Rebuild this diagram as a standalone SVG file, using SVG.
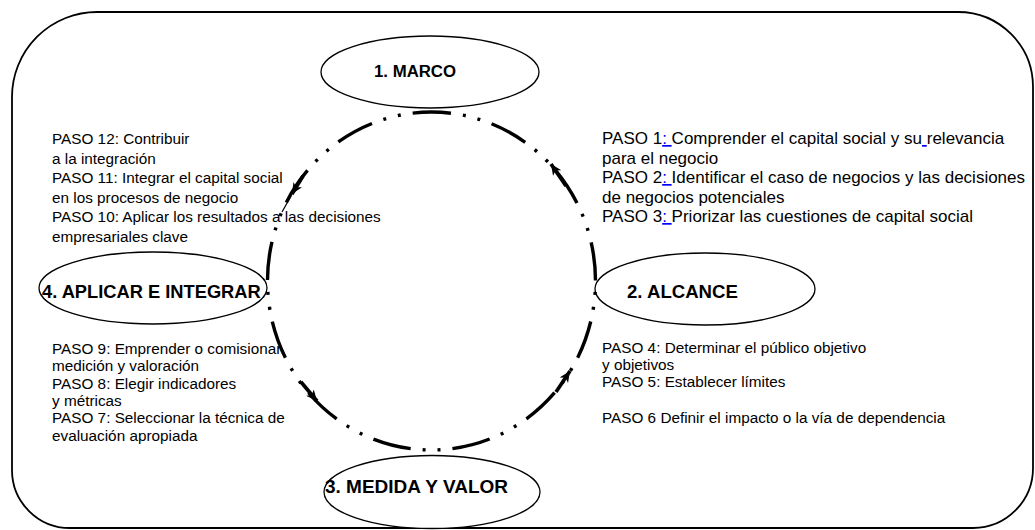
<svg xmlns="http://www.w3.org/2000/svg" width="1035" height="530" viewBox="0 0 1035 530">
<style>
.t{font-family:"Liberation Sans",Arial,sans-serif;fill:#000;white-space:pre}
.s15{font-size:15.3px}
.s17{font-size:17px}
.b{font-weight:bold}
.lnk{fill:#0000ff;text-decoration:underline}
.node{fill:#fff;stroke:#000;stroke-width:1.3}
.cyc{fill:none;stroke:#000;stroke-width:3.4;stroke-dasharray:38.5 12 3 12 3 12;stroke-dashoffset:39.6}
.arr{fill:none;stroke:#000;stroke-width:3.6}
</style>
<defs>
<marker id="ah" markerUnits="userSpaceOnUse" markerWidth="14" markerHeight="12" refX="11" refY="5" orient="auto">
<path d="M0,0 L11,5 L0,10 L3,5 Z" fill="#000"/>
</marker>
</defs>
<path id="frame" d="M97,12 H958 A75,75 0 0 1 1033,87 V468 A60,60 0 0 1 973,528 H70 A58,58 0 0 1 12,470 V97 A85,85 0 0 1 97,12 Z" fill="none" stroke="#000" stroke-width="1.8"/>
<g id="node-marco"><ellipse class="node" cx="430" cy="72" rx="109" ry="36"/><text class="t b" style="font-size:16.8px" x="374" y="77">1. MARCO</text></g>
<g id="node-alcance"><ellipse class="node" cx="705" cy="289" rx="110" ry="36"/><text class="t b" style="font-size:18.6px" x="627" y="298">2. ALCANCE</text></g>
<g id="node-medida"><ellipse class="node" cx="432" cy="492" rx="108" ry="36.5"/><text class="t b" style="font-size:19px" x="325" y="493">3. MEDIDA Y VALOR</text></g>
<g id="node-aplicar"><ellipse class="node" cx="153" cy="288" rx="114" ry="36"/><text class="t b" style="font-size:18.3px" x="42" y="298">4. APLICAR E INTEGRAR</text></g>
<g id="connectors">
<ellipse class="cyc" cx="431.5" cy="281" rx="164" ry="169"/>
<path class="arr" d="M566,186 L551,164" marker-end="url(#ah)"/>
<path class="arr" d="M556,392 L570,371" marker-end="url(#ah)"/>
<path class="arr" d="M301,382 L317,401" marker-end="url(#ah)"/>
<path class="arr" d="M303,176 L292,194" marker-end="url(#ah)"/>
<path d="M291,196 L282,212" stroke="#000" stroke-width="1.2" fill="none"/>
</g>
<g id="text-right-top" class="t s17">
<text x="602" y="144">PASO 1<tspan class="lnk">: </tspan>Comprender el capital social y su<tspan class="lnk"> </tspan>relevancia</text>
<text x="602" y="163.5">para el negocio</text>
<text x="602" y="183">PASO 2<tspan class="lnk">: </tspan>Identificar el caso de negocios y las decisiones</text>
<text x="602" y="202.5">de negocios potenciales</text>
<text x="602" y="222">PASO 3<tspan class="lnk">: </tspan>Priorizar las cuestiones de capital social</text>
</g>
<g id="text-left-top" class="t s15">
<text x="52" y="144">PASO 12: Contribuir</text>
<text x="52" y="163.5">a la integración</text>
<text x="52" y="183">PASO 11: Integrar el capital social</text>
<text x="52" y="202.5">en los procesos de negocio</text>
<text x="52" y="222">PASO 10: Aplicar los resultados a las decisiones</text>
<text x="52" y="241.5">empresariales clave</text>
</g>
<g id="text-left-bottom" class="t s15">
<text x="52" y="354">PASO 9: Emprender o comisionar</text>
<text x="52" y="371.3">medición y valoración</text>
<text x="52" y="388.6">PASO 8: Elegir indicadores</text>
<text x="52" y="405.9">y métricas</text>
<text x="52" y="423.2">PASO 7: Seleccionar la técnica de</text>
<text x="52" y="440.5">evaluación apropiada</text>
</g>
<g id="text-right-bottom" class="t s15">
<text x="602" y="352.5">PASO 4: Determinar el público objetivo</text>
<text x="602" y="369.8">y objetivos</text>
<text x="602" y="387.1">PASO 5: Establecer límites</text>
<text x="602" y="422.5">PASO 6 Definir el impacto o la vía de dependencia</text>
</g>
</svg>
